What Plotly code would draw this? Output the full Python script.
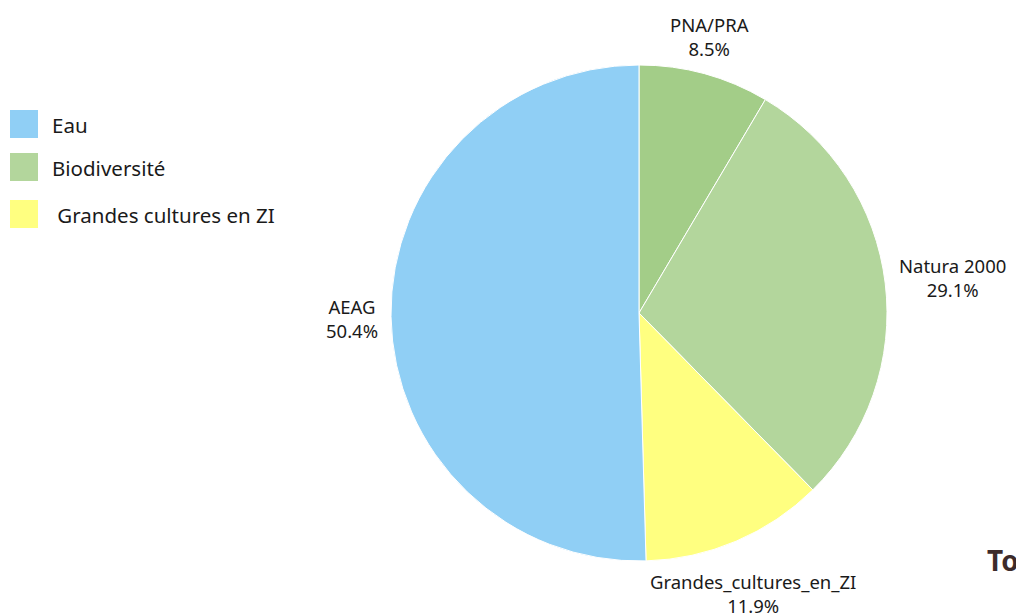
import plotly.graph_objects as go

labels = ["PNA/PRA", "Natura 2000", "Grandes_cultures_en_ZI", "AEAG"]
values = [8.5, 29.1, 11.9, 50.4]
colors = ["#a3cd88", "#b3d69c", "#ffff80", "#90cff5"]

legend_names = ["Eau", "Biodiversité", " Grandes cultures en ZI"]
legend_colors = ["#90cff5", "#b3d69c", "#ffff80"]

W, H = 1016, 615
FONT = "Noto Sans"

fig = go.Figure(go.Pie(
    labels=labels, values=values, sort=False, direction="clockwise", rotation=0,
    marker=dict(colors=colors, line=dict(color="white", width=1)),
    textinfo="none", hoverinfo="label+percent", showlegend=False,
    domain=dict(x=[(639 - 248) / W, (639 + 248) / W], y=[1 - 561 / H, 1 - 65 / H]),
))

# slice labels (pixel positions of label centres), same order as labels
label_pos = [(709, 36), (952, 277), (753, 593), (352, 318)]
anns = []
for lab, val, (px, py) in zip(labels, values, label_pos):
    anns.append(dict(x=px / W, y=1 - py / H, xref="paper", yref="paper",
                     text=f"{lab}<br>{val:.1f}%", showarrow=False,
                     xanchor="center", yanchor="middle",
                     font=dict(family=FONT, size=18.5, color="#1a1a1a")))

# custom legend
shapes = []
box_tops = [110, 153, 200]
for name, col, top in zip(legend_names, legend_colors, box_tops):
    shapes.append(dict(type="rect", xref="paper", yref="paper",
                       x0=10 / W, x1=38 / W, y0=1 - (top + 28) / H, y1=1 - top / H,
                       fillcolor=col, line=dict(width=0)))
    anns.append(dict(x=50 / W, y=1 - (top + 15) / H, xref="paper", yref="paper",
                     text=name, showarrow=False, xanchor="left", yanchor="middle",
                     font=dict(family=FONT, size=20.5, color="#1a1a1a")))

# clipped title at right edge
anns.append(dict(x=985 / W, y=1 - 560 / H, xref="paper", yref="paper",
                 text="<b>Total</b>", showarrow=False, xanchor="left", yanchor="middle",
                 font=dict(family=FONT, size=28, color="#3d2b2b")))

fig.update_layout(width=W, height=H, margin=dict(l=0, r=0, t=0, b=0),
                  paper_bgcolor="white", plot_bgcolor="white",
                  shapes=shapes, annotations=anns, showlegend=False)

fig.write_html("out.html", config={"displayModeBar": False},
               post_script="document.body.style.margin='0';document.body.style.overflow='hidden';")
